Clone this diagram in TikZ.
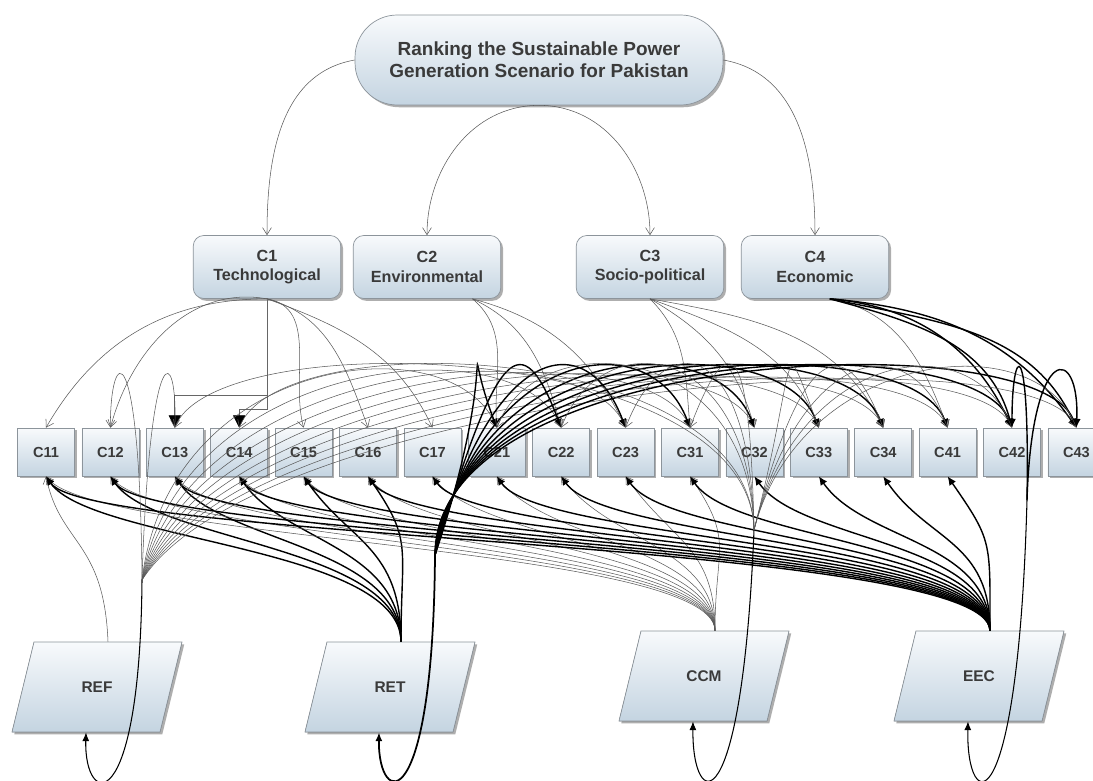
\documentclass[tikz,border=0pt]{standalone}
\usepackage{fontspec}
\setmainfont{Liberation Sans}
\usetikzlibrary{arrows.meta,shadows,calc}

\definecolor{boxtop}{HTML}{F8FAFC}
\definecolor{boxbot}{HTML}{C4D4E1}
\definecolor{boxrule}{HTML}{8C949B}
\definecolor{labelgray}{HTML}{3A3A3A}

\tikzset{
  boxbase/.style={draw=boxrule, line width=0.4pt, top color=boxtop, bottom color=boxbot,
    drop shadow={shadow xshift=1.3pt, shadow yshift=-1.3pt, opacity=0.45, fill=black!70},
    text=labelgray, align=center},
  goalbox/.style={boxbase, rounded corners=24pt, minimum width=7.36cm, minimum height=1.8cm,
    font=\bfseries\fontsize{10.8}{12.6}\selectfont},
  critbox/.style={boxbase, rounded corners=6pt, minimum width=2.95cm, minimum height=1.26cm,
    font=\bfseries\fontsize{9.2}{11}\selectfont},
  subbox/.style={boxbase, minimum width=1.14cm, minimum height=0.96cm,
    font=\bfseries\fontsize{8.3}{10}\selectfont},
  altshape/.style={boxbase},
  alttext/.style={minimum width=2.96cm, minimum height=1.8cm, inner sep=0pt, text=labelgray,
    font=\bfseries\fontsize{8.8}{10}\selectfont},
  lightarr/.style={draw=black!65, line width=0.3pt, -{Straight Barb[length=4pt,width=5pt]}},
  heavyarr/.style={draw=black, line width=0.8pt, -{Latex[length=5pt,width=4.5pt]}},
  elbowarr/.style={draw=black!60, line width=0.4pt, -{Triangle[length=7pt,width=7pt,color=black]}},
  looparr/.style={draw=black, line width=0.6pt, -{Latex[length=5pt,width=4pt]}}
}

\begin{document}
\begin{tikzpicture}[x=0.02cm, y=-0.02cm]
\useasboundingbox[fill=white] (0,0) rectangle (1093,781);

% goal and criteria
\node[goalbox] (goal) at (539,60) {Ranking the Sustainable Power\\Generation Scenario for Pakistan};
\node[critbox] (c1) at (267,267) {C1\\Technological};
\node[critbox] (c2) at (427,267) {C2\\Environmental};
\node[critbox] (c3) at (650,267) {C3\\Socio-political};
\node[critbox] (c4) at (815,267) {C4\\Economic};

% sub-criteria
\foreach \n [count=\i from 0] in {11,12,13,14,15,16,17,21,22,23,31,32,33,34,41,42,43}
  \node[subbox] (c\n) at ({46+64.4*\i},452) {C\n};

% alternatives (slanted boxes)
\foreach \a/\x/\y/\l in {ref/97/687/REF, ret/390/687/RET, ccm/704/676/CCM, eec/979/676/EEC} {
  \filldraw[altshape] ({\x-63},{\y-45}) -- ({\x+85},{\y-45}) -- ({\x+63},{\y+45}) -- ({\x-85},{\y+45}) -- cycle;
  \node[alttext] (\a) at (\x,\y) {\l};
}

\coordinate (reftop) at ($(ref.north)+(11,0)$);
\coordinate (rettop) at ($(ret.north)+(11,0)$);
\coordinate (ccmtop) at ($(ccm.north)+(11,0)$);
\coordinate (eectop) at ($(eec.north)+(11,0)$);
\coordinate (refbot) at ($(ref.south)+(-11,0)$);
\coordinate (retbot) at ($(ret.south)+(-11,0)$);
\coordinate (ccmbot) at ($(ccm.south)+(-11,0)$);
\coordinate (eecbot) at ($(eec.south)+(-11,0)$);
\coordinate (refhub) at (142,580);
\coordinate (rethub) at (435,555);
\coordinate (ccmhub) at (754,530);
\coordinate (eechub) at (1027,500);

% goal -> criteria
\draw[lightarr] (goal.west) to[out=190,in=90] (c1.north);
\draw[lightarr] (goal.south) to[out=180,in=90] (c2.north);
\draw[lightarr] (goal.south) to[out=0,in=90] (c3.north);
\draw[lightarr] (goal.east) to[out=-10,in=90] (c4.north);

% criteria -> sub-criteria
\foreach \t/\o/\e in {11/180/60, 12/170/75, 15/-10/105, 16/-15/110, 17/-20/115}
  \draw[lightarr] (c1.south) to[out=\o,in=\e] (c\t.north);
\draw[elbowarr] (c1.south) -- ++(0,97) -| (c13.north);
\draw[elbowarr] (c1.south) -- ++(0,111) -| (c14.north);
\foreach \t/\o/\e in {21/-40/95, 22/-25/105, 23/-15/115}
  \draw[lightarr] (c2.-35) to[out=\o,in=\e] (c\t.north);
\foreach \t/\o/\e in {31/-45/95, 32/-30/105, 33/-20/110, 34/-10/115}
  \draw[lightarr] (c3.south) to[out=\o,in=\e] (c\t.north);
\draw[lightarr] (c4.-65) to[out=-10,in=110] (c41.north);
\foreach \t/\o/\e in {42/-5/115, 42/-15/105, 43/-5/125, 43/-12/115}
  \draw[heavyarr] (c4.-65) to[out=\o,in=\e] (c\t.north);

% alternatives -> sub-criteria (from below)
\draw[lightarr] (reftop) .. controls (104,540) and (60,545) .. (c11.south);
\foreach \t in {11,12,13,14,15,16}
  \draw[heavyarr] (rettop) .. controls ($(rettop)+(0,-95)$) and ($(c\t.south)+(45,65)$) .. (c\t.south);
\foreach \t in {11,12,13,14,15,16,17,21,22,23,31}
  \draw[lightarr] (ccmtop) .. controls ($(ccmtop)+(0,-85)$) and ($(c\t.south)+(45,65)$) .. (c\t.south);
\foreach \t in {11,12,13,14,15,16,17,21,22,23,31,32,33,34,41}
  \draw[heavyarr] (eectop) .. controls ($(eectop)+(0,-90)$) and ($(c\t.south)+(45,65)$) .. (c\t.south);

% feedback loops
\draw[looparr] (refhub) .. controls (140,820) and (84,808) .. (refbot);
\draw[looparr, line width=1pt] (rethub) .. controls (433,820) and (378,808) .. (retbot);
\draw[looparr] (ccmhub) .. controls (742,828) and (692,812) .. (ccmbot);
\draw[looparr] (eechub) .. controls (1018,830) and (966,815) .. (eecbot);

\foreach \t/\d in {21/0,22/10,23/20,31/30,32/40,33/50,34/60,41/70,42/80,43/90}
  \draw[lightarr] (refhub) .. controls ({170+\d},{350+0.5*\d}) and ($(c\t.north)+(-40,-105)$) .. (c\t.north);
\draw[lightarr] (refhub) .. controls (140,330) and (110,345) .. (c12.north);
\draw[lightarr] (refhub) .. controls (150,330) and (178,345) .. (c13.north);
\foreach \t/\d in {21/70,22/62,23/55,31/48,32/40,33/32,34/24,41/16,42/8,43/0}
  \draw[heavyarr] (rethub) .. controls ({435+\d},345) and ($(c\t.north)+(-40,-105)$) .. (c\t.north);
\foreach \t in {33,34,41,42,43}
  \draw[lightarr] (ccmhub) .. controls (800,350) and ($(c\t.north)+(-40,-105)$) .. (c\t.north);
\foreach \t in {13,14,21,22,23,31}
  \draw[lightarr] (ccmhub) .. controls (750,340) and ($(c\t.north)+(40,-105)$) .. (c\t.north);
\draw[heavyarr] (eechub) .. controls (1030,330) and (1012,345) .. (c42.north);
\draw[heavyarr] (eechub) .. controls (1032,340) and (1080,345) .. (c43.north);
\end{tikzpicture}
\end{document}
